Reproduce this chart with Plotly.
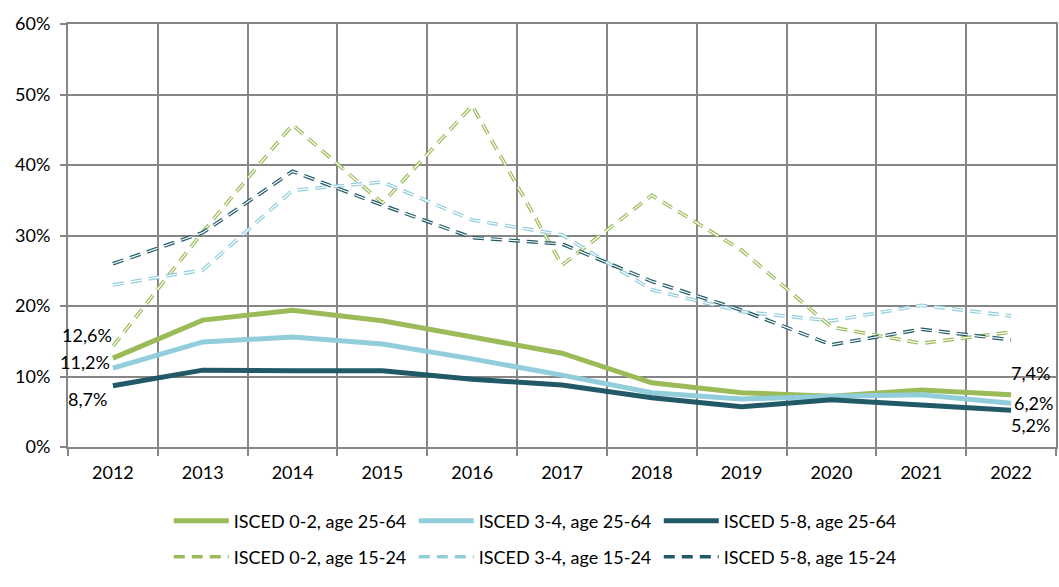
import plotly.graph_objects as go

years = [2012, 2013, 2014, 2015, 2016, 2017, 2018, 2019, 2020, 2021, 2022]

isced02_2564 = [12.6, 18.0, 19.4, 17.9, 15.6, 13.3, 9.1, 7.7, 7.2, 8.1, 7.4]
isced34_2564 = [11.2, 14.9, 15.6, 14.6, 12.5, 10.2, 7.7, 6.8, 7.2, 7.4, 6.2]
isced58_2564 = [8.7, 10.9, 10.8, 10.8, 9.6, 8.8, 7.0, 5.7, 6.7, 6.0, 5.2]

isced02_1524 = [14.3, 30.5, 45.7, 34.6, 48.4, 25.8, 35.7, 27.9, 17.0, 14.7, 16.3]
isced34_1524 = [23.0, 25.1, 36.4, 37.6, 32.2, 30.1, 22.3, 19.2, 17.9, 20.1, 18.6]
isced58_1524 = [26.0, 30.4, 39.1, 34.3, 29.7, 28.8, 23.5, 19.4, 14.5, 16.7, 15.2]

names_solid = ["ISCED 0-2, age 25-64", "ISCED 3-4, age 25-64", "ISCED 5-8, age 25-64"]
names_dash = ["ISCED 0-2, age 15-24", "ISCED 3-4, age 15-24", "ISCED 5-8, age 15-24"]

GREEN = "#9BBB59"
LBLUE = "#92CDDC"
DTEAL = "#215967"
GRID = "#868686"
FONT = "Lato, Liberation Sans, Arial, sans-serif"
FS = 18
LFS = 18


def fmt(v):
    return ("%.1f%%" % v).replace(".", ",")


fig = go.Figure()

solid = [(isced02_2564, GREEN), (isced34_2564, LBLUE), (isced58_2564, DTEAL)]
dashed = [(isced02_1524, GREEN), (isced34_1524, LBLUE), (isced58_1524, DTEAL)]

# dashed (outlined) series
for (vals, col), nm in zip(dashed, names_dash):
    y = [v / 100 for v in vals]
    fig.add_trace(go.Scatter(x=years, y=y, mode="lines", name=nm,
                             line=dict(color=col, width=3.6, dash="11px,7px"),
                             legend="legend2", hoverinfo="skip"))
    fig.add_trace(go.Scatter(x=years, y=y, mode="lines", name=nm,
                             line=dict(color="white", width=1.2, dash="11px,7px"),
                             showlegend=False, hoverinfo="skip"))

# solid series
for (vals, col), nm in zip(solid, names_solid):
    y = [v / 100 for v in vals]
    fig.add_trace(go.Scatter(x=years, y=y, mode="lines", name=nm,
                             line=dict(color=col, width=5),
                             legend="legend", hoverinfo="skip"))

# end-point data labels (offsets in px, as in the reference)
start_shift = [(1, 23), (-1, 6), (-4, -13)]
end_shift = [(-2, 22), (1, 0), (-2, -15)]
for (vals, col), (sx, sy), (ex, ey) in zip(solid, start_shift, end_shift):
    fig.add_annotation(x=years[0], y=vals[0] / 100, text=fmt(vals[0]), showarrow=False,
                       xanchor="right", yanchor="middle", xshift=sx, yshift=sy,
                       font=dict(size=FS, color="black", family=FONT))
    fig.add_annotation(x=years[-1], y=vals[-1] / 100, text=fmt(vals[-1]), showarrow=False,
                       xanchor="left", yanchor="middle", xshift=ex, yshift=ey,
                       font=dict(size=FS, color="black", family=FONT))

fig.update_layout(
    width=1059, height=587,
    margin=dict(l=68, r=1, t=24, b=140),
    paper_bgcolor="white", plot_bgcolor="white",
    font=dict(family=FONT, size=FS, color="black"),
    legend=dict(orientation="h", x=0.102, xanchor="left", y=-0.175, yanchor="middle",
                itemwidth=55, entrywidth=175, entrywidthmode="pixels",
                font=dict(size=LFS, family=FONT), bgcolor="rgba(0,0,0,0)"),
    legend2=dict(orientation="h", x=0.102, xanchor="left", y=-0.26, yanchor="middle",
                 itemwidth=55, entrywidth=175, entrywidthmode="pixels",
                 font=dict(size=LFS, family=FONT), bgcolor="rgba(0,0,0,0)"),
    xaxis=dict(range=[2011.5, 2022.5], tickvals=years, ticktext=[str(v) for v in years],
               showgrid=False, ticks="", showline=True, linecolor=GRID, linewidth=2,
               mirror=True, zeroline=False, ticklabelstandoff=8,
               minor=dict(tick0=2011.5, dtick=1, showgrid=True, gridcolor=GRID, gridwidth=2,
                          ticks="outside", ticklen=7, tickcolor=GRID, tickwidth=2),
               tickfont=dict(size=FS, family=FONT)),
    yaxis=dict(range=[0, 0.6], dtick=0.1, tickformat=".0%", showgrid=True,
               gridcolor=GRID, gridwidth=2, ticks="outside", ticklen=6, tickcolor=GRID,
               tickwidth=2, showline=True, linecolor=GRID, linewidth=2, mirror=True,
               zeroline=False, tickfont=dict(size=FS, family=FONT), ticklabelstandoff=6),
)

fig.write_html("out.html")
